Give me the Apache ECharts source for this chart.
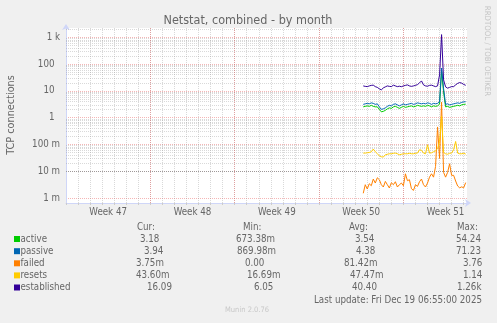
<!DOCTYPE html>
<html><head><meta charset="utf-8">
<script src="https://cdn.jsdelivr.net/npm/echarts@6/dist/echarts.min.js"></script>
<style>html,body{margin:0;padding:0;background:#F0F0F0;}#c{width:497px;height:323px;}</style>
</head><body><div id="c"></div>
<script>
// ---- data ----
const seriesNames = ['active', 'passive', 'failed', 'resets', 'established'];
const weekLabels = ['Week 47', 'Week 48', 'Week 49', 'Week 50', 'Week 51'];
const yTickLabels = ['1 m', '10 m', '100 m', '1\u00a0\u00a0', '10\u00a0\u00a0', '100\u00a0\u00a0', '1 k'];
const weekBoundaries = [7, 14, 21, 28];            // days from left edge
const startDay = 24.67, stepDay = 1 / 6;           // 4-hour samples

const active = [2.53,2.64,2.75,2.64,2.88,2.64,2.53,2.53,2.04,1.65,
  1.72,1.87,2.13,2.32,2.22,2.53,2.64,2.42,2.22,2.42,
  2.64,2.42,2.53,2.64,2.75,2.53,2.64,2.88,2.75,2.64,
  2.75,2.64,2.88,2.75,2.53,2.75,2.64,2.75,3.2,54.24,
  9,2.53,2.64,2.42,2.53,2.64,2.75,2.88,2.75,3.0,
  3.13,3.18];
const passive = [3.13,3.28,3.41,3.28,3.56,3.41,3.13,3.28,2.53,2.04,
  2.13,2.32,2.64,2.88,2.75,3.13,3.28,3.0,2.75,3.0,
  3.28,3.0,3.13,3.28,3.41,3.13,3.28,3.56,3.41,3.28,
  3.41,3.28,3.56,3.41,3.13,3.41,3.28,3.41,3.9,71.23,
  12,3.13,3.28,3.0,3.13,3.28,3.41,3.56,3.41,3.72,
  3.88,3.94];
const failed = [0.0015,0.00313,0.00216,0.00341,0.00287,0.0051,0.00362,0.0057,0.00481,0.00313,
  0.00257,0.00416,0.00313,0.00236,0.00372,0.00313,0.00405,0.00257,0.00313,0.00362,
  0.00287,0.008,0.00441,0.00481,0.00222,0.00192,0.00313,0.00271,0.00405,0.0051,
  0.00313,0.00257,0.00362,0.006,0.008,0.006,0.015,0.45,0.03,3.76,
  0.009,0.006,0.009,0.019,0.007,0.007,0.0043,0.0028,0.0024,0.0026,
  0.0024,0.00375];
const resets = [0.0475,0.0475,0.0488,0.0501,0.0532,0.067,0.0532,0.0448,0.0378,0.0346,
  0.0337,0.0411,0.0429,0.0448,0.0448,0.0467,0.0475,0.0448,0.0411,0.0429,
  0.0448,0.0448,0.0448,0.0467,0.0448,0.0448,0.0467,0.0475,0.0631,0.0605,
  0.0475,0.0448,0.097,0.0475,0.0488,0.0532,0.058,0.0688,0.13,1.14,
  0.05,0.0448,0.0429,0.0467,0.0475,0.0631,0.129,0.0475,0.0448,0.0448,
  0.0467,0.0436];
const established = [15.3,14.7,14.4,15.3,16.0,16.3,14.4,13.5,11.9,10.9,
  12.9,14.1,15.3,14.7,14.4,16.3,15.3,14.4,14.9,14.3,
  15.3,16.0,16.7,15.3,14.7,15.3,16.0,17.1,19.8,23.5,
  16.7,15.3,14.9,16.0,16.3,15.3,14.4,15.3,39.4,1260,
  25.6,14.1,12.6,13.5,14.4,14.4,16.7,19.0,20.4,19.4,
  17.4,16.1];

const curTxt = ['3.18', '3.94', '3.75m', '43.60m', '16.09'];
const minTxt = ['673.38m', '869.98m', '0.00', '16.69m', '6.05'];
const avgTxt = ['3.54', '4.38', '81.42m', '47.47m', '40.40'];
const maxTxt = ['54.24', '71.23', '3.76', '1.14', '1.26k'];

// ---- styling / layout ----
const FONT = '"DejaVu Sans Condensed", "DejaVu Sans", sans-serif';
const TXT = '#666666';
const colors = ['#00CC00', '#0066B3', '#FF8000', '#FFCC00', '#330099'];
const RED = 'rgba(230,80,80,0.42)';
const GRAY = 'rgba(150,150,150,0.36)';
const AXIS = '#CFD6F8';
const xMin = 0, xMax = 33.28, yMin = 6.5e-4, yMax = 2222;

const allSeries = [active, passive, failed, resets, established];
const toPairs = arr => arr.map((v, i) => [startDay + i * stepDay, v]);

const minorLines = [];
for (let e = -4; e <= 3; e++) for (let m = 2; m <= 9; m++) {
  const v = m * Math.pow(10, e);
  if (v > yMin && v < yMax) minorLines.push({ yAxis: v });
}
const majorX = weekBoundaries.map(d => ({ xAxis: d, lineStyle: { color: RED } }));

const series = allSeries.map((arr, i) => {
  const s = {
    type: 'line', name: seriesNames[i], data: toPairs(arr),
    symbol: 'none', showSymbol: false, smooth: false,
    lineStyle: { width: 1, color: colors[i] }, itemStyle: { color: colors[i] },
    z: 2 + i, silent: true, animation: false
  };
  if (i === 0) {
    s.markLine = {
      z: 1, silent: true, symbol: ['none', 'none'], label: { show: false },
      animation: false,
      lineStyle: { color: GRAY, width: 1, type: [1, 1] },
      emphasis: { disabled: true },
      data: minorLines.concat(majorX)
    };
  }
  return s;
});

const graphic = [];
const txt = (x, y, text, extra) => Object.assign({
  type: 'text', x: x, y: y, silent: true,
  style: Object.assign({ text: text, fill: TXT, fontSize: 9.7, fontFamily: FONT,
    textAlign: 'left', textVerticalAlign: 'middle' }, (extra && extra.style) || {})
}, extra && extra.rotation !== undefined ? { rotation: extra.rotation } : {});

graphic.push(txt(248, 20.5, 'Netstat, combined - by month', { style: { fontSize: 12.5, textAlign: 'center' } }));
graphic.push(txt(11, 115, 'TCP connections', { rotation: Math.PI / 2, style: { fontSize: 10.8, textAlign: 'center' } }));
graphic.push(txt(487, 51, 'RRDTOOL / TOBI OETIKER', { rotation: -Math.PI / 2, style: { fontSize: 7.8, fill: '#c4c4c4', textAlign: 'center' } }));

const headY = 227;
const rowY = [239, 251.2, 263.3, 275.4, 287.5];
graphic.push(txt(137, headY, 'Cur:'));
graphic.push(txt(243, headY, 'Min:'));
graphic.push(txt(349, headY, 'Avg:'));
graphic.push(txt(457, headY, 'Max:'));
const curX = [140, 144, 136, 136, 147];
const minX = [236, 237, 245, 247, 254];
const avgX = [355, 356, 344, 350, 352];
const maxX = [456, 456, 463, 463, 457];
seriesNames.forEach((n, i) => {
  graphic.push({ type: 'rect', silent: true, shape: { x: 14, y: rowY[i] - 3, width: 6, height: 6 }, style: { fill: colors[i] } });
  graphic.push(txt(20.5, rowY[i], n));
  graphic.push(txt(curX[i], rowY[i], curTxt[i]));
  graphic.push(txt(minX[i], rowY[i], minTxt[i]));
  graphic.push(txt(avgX[i], rowY[i], avgTxt[i]));
  graphic.push(txt(maxX[i], rowY[i], maxTxt[i]));
});
graphic.push(txt(482, 300, 'Last update: Fri Dec 19 06:55:00 2025', { style: { textAlign: 'right' } }));
graphic.push(txt(225, 310.5, 'Munin 2.0.76', { style: { fontSize: 7.5, fill: '#c8c8c8' } }));

const option = {
  animation: false,
  backgroundColor: '#F0F0F0',
  grid: { left: 66, right: 30, top: 28, bottom: 120, show: true, backgroundColor: '#FFFFFF', borderWidth: 0 },
  xAxis: [{
    type: 'value', min: xMin, max: xMax, interval: 1, position: 'bottom',
    axisLine: { show: true, lineStyle: { color: AXIS, width: 1 }, symbol: ['none', 'arrow'], symbolSize: [6, 6], symbolOffset: [0, 4] },
    axisTick: { show: true, length: 2, lineStyle: { color: '#cccccc' } },
    axisLabel: { show: false },
    splitLine: { show: true, showMinLine: false, showMaxLine: false, lineStyle: { color: GRAY, width: 1, type: [1, 1] } }
  }, {
    type: 'value', min: xMin, max: xMax, interval: 3.5, position: 'bottom',
    axisLine: { show: false }, axisTick: { show: false }, splitLine: { show: false },
    axisLabel: {
      show: true, color: TXT, fontSize: 9.7, fontFamily: FONT, margin: 4,
      formatter: v => { const k = (v - 3.5) / 7, r = Math.round(k); return (Math.abs(k - r) < 1e-6 && weekLabels[r]) ? weekLabels[r] : ''; }
    }
  }],
  yAxis: {
    type: 'log', logBase: 10, min: yMin, max: yMax,
    axisLine: { show: true, lineStyle: { color: AXIS, width: 1 }, symbol: ['none', 'arrow'], symbolSize: [6, 6], symbolOffset: [0, 4] },
    axisTick: { show: false },
    splitLine: { show: true, showMinLine: false, showMaxLine: false, lineStyle: { color: RED, width: 1, type: [1, 1] } },
    minorTick: { show: false }, minorSplitLine: { show: false },
    axisLabel: {
      show: true, color: TXT, fontSize: 9.7, fontFamily: FONT, margin: 6,
      formatter: v => { const l = Math.log10(v), k = Math.round(l); if (Math.abs(l - k) > 1e-6) return ''; return yTickLabels[k + 3] || ''; }
    }
  },
  series: series,
  graphic: graphic
};
const chart = echarts.init(document.getElementById('c'));
chart.setOption(option);
</script></body></html>
